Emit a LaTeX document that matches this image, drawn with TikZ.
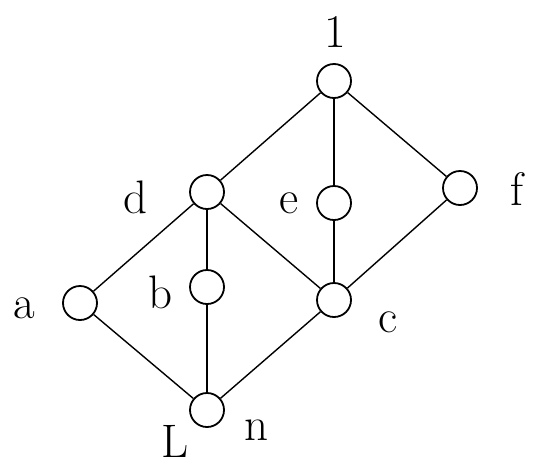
\documentclass[tikz,border=0pt]{standalone}
\begin{document}
\begin{tikzpicture}[x=1pt,y=-1pt,
  vtx/.style={circle,draw=black,line width=1.8pt,minimum size=34pt,inner sep=0pt,fill=white},
  edge/.style={draw=black,line width=1.4pt},
  vedge/.style={draw=black,line width=2pt},
  lab/.style={anchor=base,inner sep=0pt,font=\fontsize{47}{50}\selectfont}]
\useasboundingbox (0,0) rectangle (534,469);
% vertices
\node[vtx] (one) at (334,81) {};
\node[vtx] (d) at (207,192) {};
\node[vtx] (e) at (334,203) {};
\node[vtx] (f) at (460,188) {};
\node[vtx] (a) at (80,303) {};
\node[vtx] (b) at (207,287) {};
\node[vtx] (c) at (334,300) {};
\node[vtx] (n) at (207,410) {};
% edges
\draw[edge] (one) -- (d);
\draw[vedge] (one) -- (e);
\draw[edge] (one) -- (f);
\draw[edge] (d) -- (a);
\draw[vedge] (d) -- (b);
\draw[edge] (d) -- (c);
\draw[vedge] (e) -- (c);
\draw[edge] (f) -- (c);
\draw[edge] (a) -- (n);
\draw[vedge] (b) -- (n);
\draw[edge] (c) -- (n);
% labels
\node[lab] (lone) at (335,47) {1};
\node[lab] (ld) at (136,213) {d};
\node[lab] (le) at (289,213) {e};
\node[lab] (lf) at (517,205) {f};
\node[lab] (la) at (24,318) {a};
\node[lab] (lb) at (161,308) {b};
\node[lab] (lc) at (388,332) {c};
\node[lab] (lL) at (175,457) {L};
\node[lab] (ln) at (257,440) {n};
\end{tikzpicture}
\end{document}
